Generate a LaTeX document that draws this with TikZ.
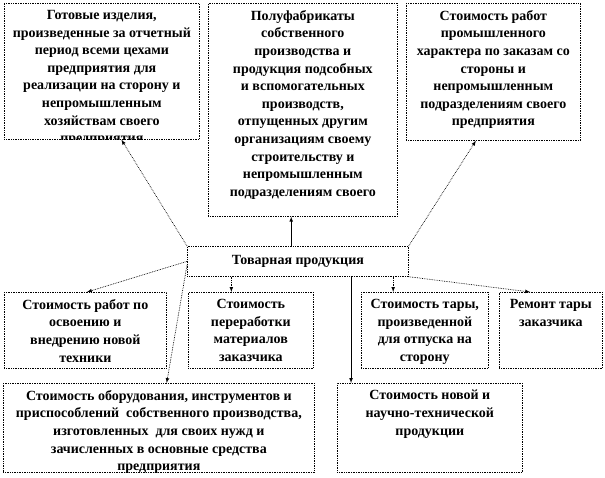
\documentclass[tikz,border=0pt]{standalone}
\usepackage{fontspec}
\setmainfont{Liberation Serif}
\usetikzlibrary{positioning,arrows,calc}

% text of a box, set from its top
\newcommand{\boxtext}[3]{\parbox[c][#2][t]{#1}{\vspace{7pt}\centering #3}}

\begin{document}
\begin{tikzpicture}[x=1pt, y=-1pt, >=latex,
        box/.style={draw, densely dotted, line width=0.7pt, anchor=north west, inner sep=0pt,
                    font=\fontsize{14}{17.6}\selectfont\bfseries},
        link/.style={->, densely dotted, line width=0.7pt},
        main/.style={->, line width=0.7pt}]
    \useasboundingbox (0,0) rectangle (605,477);
    \fill[white] (0,0) rectangle (605,477);

    % Top row
    \begin{scope}
        \clip (2,1) rectangle (201,139.6);
        \node[box] (gotov) at (4,3) {\boxtext{195pt}{136pt}{Готовые изделия,\\
            произведенные за отчетный\\ период всеми цехами\\ предприятия для\\
            реализации на сторону и\\ непромышленным\\ хозяйствам своего\\ предприятия}};
    \end{scope}
    \node[box] (polu) at (208,3) {\boxtext{189pt}{213pt}{Полуфабрикаты\\ собственного\\
        производства и\\ продукция подсобных\\ и вспомогательных\\ производств,\\
        отпущенных другим\\ организациям своему\\ строительству и\\ непромышленным\\
        подразделениям своего}};
    \node[box] (stoim) at (406,3) {\boxtext{174pt}{137pt}{Стоимость работ\\ промышленного\\
        характера по заказам со\\ стороны и\\ непромышленным\\ подразделениям своего\\
        предприятия}};

    % Centre
    \node[box, minimum width=221pt, minimum height=30pt] (tp) at (187,246) {Товарная продукция};

    % Second row
    \node[box] (osv) at (4,292) {\boxtext{162pt}{76pt}{Стоимость работ по\\ освоению и\\
        внедрению новой\\ техники}};
    \node[box] (perer) at (188,292) {\boxtext{125pt}{76pt}{Стоимость\\ переработки\\
        материалов\\ заказчика}};
    \node[box] (tara) at (361,292) {\boxtext{127pt}{76pt}{Стоимость тары,\\ произведенной\\
        для отпуска на\\ сторону}};
    \node[box] (remont) at (499,292) {\boxtext{103pt}{76pt}{Ремонт тары\\ заказчика}};

    % Bottom row
    \node[box] (obor) at (3,383) {\boxtext{311pt}{89pt}{Стоимость оборудования, инструментов и\\
        приспособлений~ собственного производства,\\ изготовленных~ для своих нужд и\\
        зачисленных в основные средства\\ предприятия}};
    \node[box] (nauch) at (337,383) {\boxtext{185pt}{89pt}{Стоимость новой и\\
        научно-технической\\ продукции}};

    % Links up
    \draw[link] (tp.north west) -- ($(gotov.south west)!0.6!(gotov.south east)$);
    \draw[main] ($(tp.north west)!0.47!(tp.north east)$) coordinate (up) -- (up |- polu.south);
    \draw[link] (tp.north east) -- ($(stoim.south west)!0.4!(stoim.south east)$);

    % Links down
    \draw[link] (tp.west) -- ($(osv.north west)!0.51!(osv.north east)$);
    \draw[link] ($(tp.north west)!0.62!(tp.south west)$) -- ($(obor.north west)!0.525!(obor.north east)$);
    \draw[link] ($(tp.south west)!0.2!(tp.south east)$) coordinate (d1) -- (d1 |- perer.north);
    \draw[main] ($(tp.south west)!0.74!(tp.south east)$) coordinate (d2) -- (d2 |- nauch.north);
    \draw[link] ($(tp.south west)!0.93!(tp.south east)$) coordinate (d3) -- (d3 |- tara.north);
    \draw[link] (tp.south east) -- ($(remont.north west)!0.3!(remont.north east)$);
\end{tikzpicture}
\end{document}
